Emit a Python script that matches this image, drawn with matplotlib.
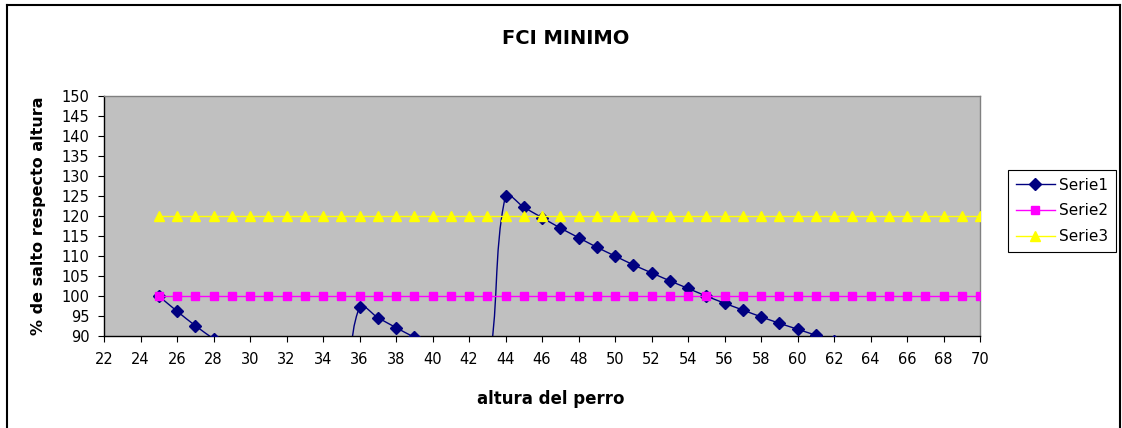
"""FCI MINIMO: % de salto respecto altura vs altura del perro."""
import matplotlib

matplotlib.use("Agg")
import matplotlib.pyplot as plt
import numpy as np
from matplotlib.lines import Line2D
from matplotlib.patches import PathPatch
from matplotlib.path import Path

plt.rcParams["font.family"] = ["DejaVu Sans"]

# ── data ──
alturas = list(range(25, 71))
serie1 = [
    100.0, 96.2, 92.6, 89.3, 86.2, 83.3, 80.6, 78.1, 75.8, 73.5, 71.4,
    97.2, 94.6, 92.1, 89.7, 87.5, 85.4, 83.3, 81.4,
    125.0, 122.2, 119.6, 117.0, 114.6, 112.2, 110.0, 107.8, 105.8, 103.8,
    101.9, 100.0, 98.2, 96.5, 94.8, 93.2, 91.7, 90.2, 88.7, 87.3, 85.9,
    84.6, 83.3, 82.1, 80.9, 79.7, 78.6,
]
serie2 = [100] * len(alturas)
serie3 = [120] * len(alturas)
series_names = ["Serie1", "Serie2", "Serie3"]
x_ticks = list(range(22, 71, 2))
y_ticks = list(range(90, 151, 5))

C_NAVY = "#000080"
C_MAG = "#FF00FF"
C_YEL = "#FFFF00"


def _smooth_path(ax, xs, ys, k=1 / 3) -> Path:
    """Excel-like smoothed line, built in screen space (Bezier segments)."""
    q = ax.transData.transform(np.column_stack([xs, ys]).astype(float))
    n = len(q)
    u = np.empty_like(q)
    for i in range(n):
        d = q[min(i + 1, n - 1)] - q[max(i - 1, 0)]
        u[i] = d / (np.hypot(*d) + 1e-12)
    verts = [q[0]]
    codes = [Path.MOVETO]
    for i in range(n - 1):
        L = np.hypot(*(q[i + 1] - q[i]))
        verts += [q[i] + u[i] * L * k, q[i + 1] - u[i + 1] * L * k, q[i + 1]]
        codes += [Path.CURVE4] * 3
    verts = ax.transData.inverted().transform(np.array(verts))
    return Path(verts, codes)


W, H = 1122, 428
fig = plt.figure(figsize=(W / 100, H / 100), dpi=100)
fig.patch.set_facecolor("white")

ax = fig.add_axes([104 / W, 1 - 336 / H, (980 - 104) / W, (336 - 96) / H])
ax.set_facecolor("#C0C0C0")
for s in ax.spines.values():
    s.set_color("#808080")
    s.set_linewidth(1.0)
ax.spines["left"].set_color("black")
ax.spines["bottom"].set_color("black")
ax.set_xlim(22, 70)
ax.set_ylim(90, 150)

# Serie1: smoothed line + markers
ax.add_patch(PathPatch(_smooth_path(ax, alturas, serie1), fill=False,
                       edgecolor=C_NAVY, lw=1.0, zorder=2))
ax.plot(alturas, serie1, linestyle="none", marker="D", ms=6.0,
        color=C_NAVY, zorder=3)
ax.plot(alturas, serie2, color=C_MAG, lw=1.0, marker="s", ms=5.6, zorder=4)
ax.plot(alturas, serie3, color=C_YEL, lw=1.0, marker="^", ms=7.0, zorder=5)

ax.set_xticks(x_ticks)
ax.set_yticks(y_ticks)
ax.tick_params(axis="both", direction="out", length=4.5, width=0.8,
               labelsize=10.5, color="black")
ax.tick_params(axis="y", pad=6)
ax.tick_params(axis="x", pad=7)

fig.text(566 / W, 1 - 43.5 / H, "FCI MINIMO", ha="center", va="baseline",
         fontsize=14, fontweight="bold")
fig.text(551 / W, 1 - 404 / H, "altura del perro", ha="center",
         va="baseline", fontsize=12, fontweight="bold")
fig.text(39 / W, 1 - 216 / H, "% de salto respecto altura", ha="center",
         va="center", rotation=90, fontsize=11.5, fontweight="bold")

handles = [
    Line2D([], [], color=C_NAVY, lw=1.0, marker="D", ms=6.0),
    Line2D([], [], color=C_MAG, lw=1.0, marker="s", ms=5.6),
    Line2D([], [], color=C_YEL, lw=1.0, marker="^", ms=7.0),
]
leg = fig.legend(handles, series_names, loc="upper left",
                 bbox_to_anchor=(1008 / W, 1 - 170 / H), borderaxespad=0,
                 fontsize=11, frameon=True, fancybox=False, shadow=False,
                 handlelength=2.55, handletextpad=0.3, labelspacing=0.7,
                 borderpad=0.5, edgecolor="black", framealpha=1)
leg.get_frame().set_linewidth(0.8)

# outer chart border (bottom edge is outside the picture)
for xs, ys in [((7, 7), (5, H + 5)), ((7, 1120), (5, 5)),
               ((1120, 1120), (5, H + 5))]:
    fig.add_artist(Line2D([x / W for x in xs], [1 - y / H for y in ys],
                          transform=fig.transFigure, color="black", lw=1.5))

fig.savefig("out.png", dpi=100)
plt.close(fig)
